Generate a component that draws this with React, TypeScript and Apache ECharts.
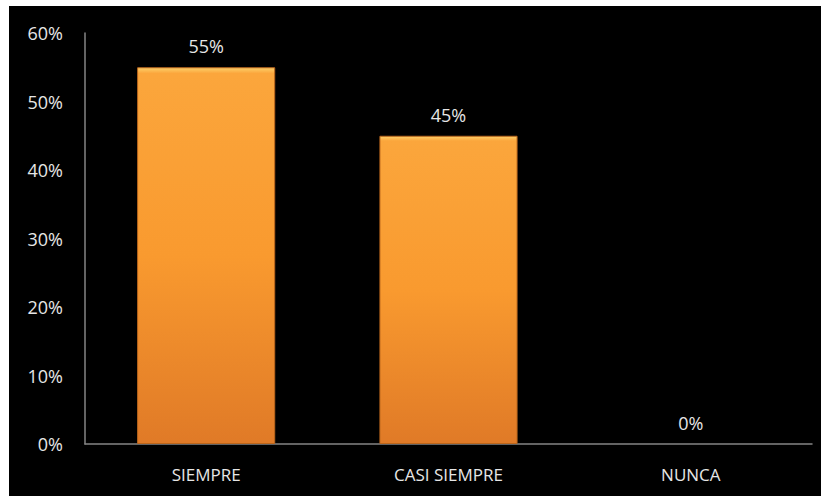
import React, { useEffect, useRef } from "react";
import * as echarts from "echarts";

const categories = ["SIEMPRE", "CASI SIEMPRE", "NUNCA"];
const values = [55, 45, 0];
const yTicks = [0, 10, 20, 30, 40, 50, 60];

export default function App() {
  const ref = useRef<HTMLDivElement>(null);
  useEffect(() => {
    if (!ref.current) return;
    const chart = echarts.init(ref.current, null, { renderer: "svg" });
    const font = "'Open Sans', 'Liberation Sans', sans-serif";
    chart.setOption({
      animation: false,
      backgroundColor: "#000000",
      grid: { left: 76, right: 9, top: 27, bottom: 52 },
      xAxis: {
        type: "category",
        data: categories,
        axisLine: { lineStyle: { color: "#858585", width: 1.5 } },
        axisTick: { show: false },
        axisLabel: { color: "#e6e6e6", fontSize: 17, fontFamily: font, margin: 22 },
      },
      yAxis: {
        type: "value",
        min: yTicks[0],
        max: yTicks[yTicks.length - 1],
        interval: 10,
        axisLine: { show: true, lineStyle: { color: "#858585", width: 1.5 } },
        axisTick: { show: false },
        splitLine: { show: false },
        axisLabel: {
          color: "#e6e6e6",
          fontSize: 18,
          fontFamily: font,
          margin: 22,
          formatter: (v: number) => `${v}%`,
        },
      },
      series: [
        {
          type: "bar",
          data: values.map((v) => ({
            value: v,
            itemStyle: v === 0 ? { borderWidth: 0, opacity: 0 } : {},
          })),
          barWidth: "57%",
          itemStyle: {
            color: new echarts.graphic.LinearGradient(0, 0, 0, 1, [
              { offset: 0, color: "#fdd06a" },
              { offset: 0.015, color: "#fba63c" },
              { offset: 0.5, color: "#f99a2f" },
              { offset: 1, color: "#e07a27" },
            ]),
            borderColor: "#b9651c",
            borderWidth: 1,
          },
          label: {
            show: true,
            position: "top",
            distance: 12,
            color: "#e6e6e6",
            fontSize: 18,
            fontFamily: font,
            opacity: 1,
            formatter: (p: any) => `${p.value}%`,
          },
        },
      ],
    });
    return () => chart.dispose();
  }, []);
  return (
    <div
      ref={ref}
      style={{ position: "fixed", left: 9, top: 6, width: 812, height: 490 }}
    />
  );
}
